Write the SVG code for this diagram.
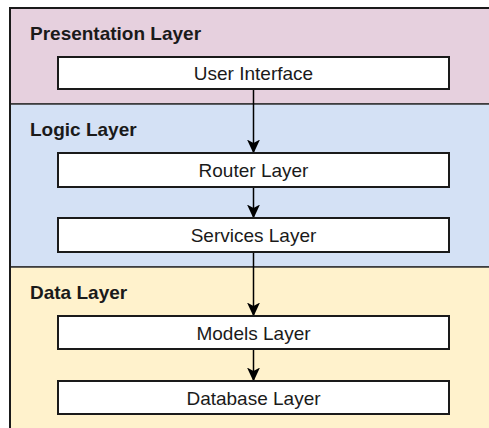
<svg xmlns="http://www.w3.org/2000/svg" width="489" height="428" viewBox="0 0 489 428">
  <style>
    .band { stroke: #333333; stroke-width: 1.5; }
    .title { font-family: "Liberation Sans", Arial, sans-serif; font-size: 19px; font-weight: bold; fill: #1a1a1a; }
    .box { fill: #ffffff; stroke: #1a1a1a; stroke-width: 2; }
    .label { font-family: "Liberation Sans", Arial, sans-serif; font-size: 19px; fill: #1a1a1a; text-anchor: middle; }
    .edge { stroke: #000000; stroke-width: 1.5; fill: none; marker-end: url(#arrow); }
  </style>
  <defs>
    <marker id="arrow" viewBox="0 0 14 13" refX="13.5" refY="6.5" markerWidth="14" markerHeight="13" markerUnits="userSpaceOnUse" orient="auto">
      <path d="M0,0 L14,6.5 L0,13 L3.5,6.5 Z" fill="#000000"/>
    </marker>
  </defs>
  <rect width="489" height="428" fill="#ffffff"/>

  <!-- swimlane bands -->
  <g id="presentation-layer">
    <rect class="band" x="10" y="8" width="490" height="96" fill="#e6d0de"/>
    <text class="title" x="30" y="40">Presentation Layer</text>
  </g>
  <g id="logic-layer">
    <rect class="band" x="10" y="104" width="490" height="163" fill="#d4e1f5"/>
    <text class="title" x="30" y="136">Logic Layer</text>
  </g>
  <g id="data-layer">
    <rect class="band" x="10" y="267" width="490" height="180" fill="#fff2cc"/>
    <text class="title" x="30" y="299">Data Layer</text>
  </g>
  <!-- outer frame -->
  <rect x="10" y="8" width="490" height="440" fill="none" stroke="#1a1a1a" stroke-width="2"/>

  <!-- connectors -->
  <g id="connectors">
    <path class="edge" d="M253.5,89 V153"/>
    <path class="edge" d="M253.5,187 V218"/>
    <path class="edge" d="M253.5,252 V316"/>
    <path class="edge" d="M253.5,349 V381"/>
  </g>

  <!-- nodes -->
  <g id="user-interface">
    <rect class="box" x="58" y="57" width="391" height="32"/>
    <text class="label" x="253.5" y="80">User Interface</text>
  </g>
  <g id="router-layer">
    <rect class="box" x="58" y="153" width="391" height="34"/>
    <text class="label" x="253.5" y="177">Router Layer</text>
  </g>
  <g id="services-layer">
    <rect class="box" x="58" y="218" width="391" height="34"/>
    <text class="label" x="253.5" y="242">Services Layer</text>
  </g>
  <g id="models-layer">
    <rect class="box" x="58" y="316" width="391" height="33"/>
    <text class="label" x="253.5" y="339.5">Models Layer</text>
  </g>
  <g id="database-layer">
    <rect class="box" x="58" y="381" width="391" height="33"/>
    <text class="label" x="253.5" y="405">Database Layer</text>
  </g>
</svg>
